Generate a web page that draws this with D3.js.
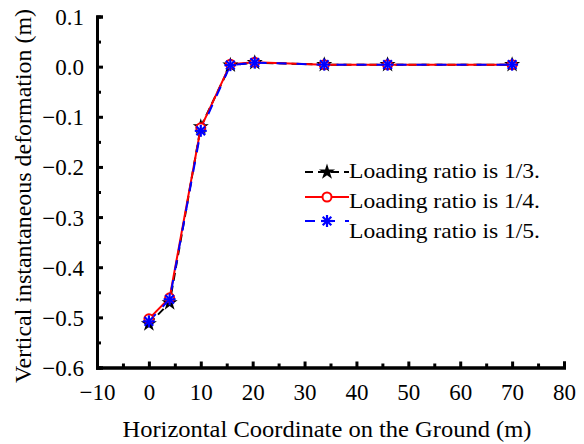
<!DOCTYPE html>
<html><head><meta charset="utf-8">
<script src="https://cdn.jsdelivr.net/npm/d3@7"></script>
<style>
html,body{margin:0;padding:0;background:#fff;}
</style></head>
<body>
<svg id="c" width="584" height="444"></svg>
<script>
const xValues = [0, 4, 10, 15.7, 20.4, 33.8, 46, 70];
const seriesNames = ["Loading ratio is 1/3.", "Loading ratio is 1/4.", "Loading ratio is 1/5."];
const ratio13 = [-0.513, -0.471, -0.120, 0.003, 0.008, 0.004, 0.004, 0.004];
const ratio14 = [-0.503, -0.461, -0.122, 0.005, 0.009, 0.004, 0.004, 0.004];
const ratio15 = [-0.508, -0.464, -0.128, 0.003, 0.008, 0.004, 0.004, 0.004];
const xTicks = [-10, 0, 10, 20, 30, 40, 50, 60, 70, 80];
const yTicks = [0.1, 0.0, -0.1, -0.2, -0.3, -0.4, -0.5, -0.6];
const xTitle = "Horizontal Coordinate on the Ground (m)";
const yTitle = "Vertical instantaneous deformation (m)";

const FONT = "'Liberation Serif', 'Times New Roman', serif";
const svg = d3.select("#c");
const x = d3.scaleLinear().domain([-10, 80]).range([97, 564]);
const y = d3.scaleLinear().domain([-0.6, 0.1]).range([367.5, 16.5]);

const series = [
  {name: seriesNames[0], values: ratio13, color: "#000", dash: "8,5", marker: "star"},
  {name: seriesNames[1], values: ratio14, color: "#ff0000", dash: null, marker: "circle"},
  {name: seriesNames[2], values: ratio15, color: "#0000ff", dash: "10,10", marker: "asterisk"}
];

// axes
const gx = svg.append("g").attr("transform", `translate(0,${y(-0.6)})`);
gx.call(d3.axisBottom(x).tickValues(xTicks).tickSize(-6).tickPadding(16).tickFormat(d3.format("d")));
gx.append("g").call(d3.axisBottom(x).tickValues(d3.range(-5, 80, 10)).tickSize(-4).tickFormat(""));
const gy = svg.append("g").attr("transform", `translate(${x(-10)},0)`);
gy.call(d3.axisLeft(y).tickValues(yTicks).tickSize(-6).tickPadding(13).tickFormat(d3.format(".1f")));
gy.append("g").call(d3.axisLeft(y).tickValues(d3.range(-0.55, 0.1, 0.1)).tickSize(-4).tickFormat(""));
svg.selectAll("g").attr("font-family", FONT);
svg.selectAll(".domain").attr("stroke", "#000").attr("stroke-width", 3);
svg.selectAll(".tick line").attr("stroke", "#000").attr("stroke-width", 3);
svg.selectAll(".tick text").style("font-size", "23px").style("font-family", FONT).attr("fill", "#000");
gy.selectAll(".tick text").attr("dy", "0.35em");

// lines
const line = d3.line().x((d, i) => x(xValues[i])).y(d => y(d));
function drawMarker(g, type, color, cx, cy) {
  if (type === "star") {
    g.append("path").attr("d", d3.symbol(d3.symbolStar, 80)()).attr("transform", `translate(${cx},${cy})`).attr("fill", color);
  } else if (type === "circle") {
    g.append("circle").attr("cx", cx).attr("cy", cy).attr("r", 4.5).attr("fill", "#fff").attr("stroke", color).attr("stroke-width", 2);
  } else {
    const r = 6;
    [[r,0],[0,r],[r*0.72,r*0.72],[r*0.72,-r*0.72]].forEach(([dx, dy]) => {
      g.append("line").attr("x1", cx-dx).attr("y1", cy-dy).attr("x2", cx+dx).attr("y2", cy+dy).attr("stroke", color).attr("stroke-width", 2.2);
    });
  }
}
series.forEach(s => {
  svg.append("path").datum(s.values).attr("d", line).attr("fill", "none")
    .attr("stroke", s.color).attr("stroke-width", 2).attr("stroke-dasharray", s.dash);
});
series.forEach(s => {
  const g = svg.append("g");
  s.values.forEach((v, i) => drawMarker(g, s.marker, s.color, x(xValues[i]), y(v)));
});

// legend
const legRows = [{ly: 172, ty: 178}, {ly: 197, ty: 208}, {ly: 221, ty: 238}];
series.forEach((s, i) => {
  const g = svg.append("g");
  g.append("line").attr("x1", 305).attr("x2", 349).attr("y1", legRows[i].ly).attr("y2", legRows[i].ly)
    .attr("stroke", s.color).attr("stroke-width", 2).attr("stroke-dasharray", s.dash);
  drawMarker(g, s.marker, s.color, 327, legRows[i].ly);
  g.append("text").attr("x", 349).attr("y", legRows[i].ty).style("font-size", "22px").style("font-family", FONT)
    .attr("textLength", 191).attr("lengthAdjust", "spacingAndGlyphs").text(s.name);
});

// titles
svg.append("text").attr("x", 327).attr("y", 437).attr("text-anchor", "middle").style("font-size", "24px").style("font-family", FONT)
  .attr("textLength", 409).attr("lengthAdjust", "spacingAndGlyphs").text(xTitle);
svg.append("text").attr("transform", "translate(31,196) rotate(-90)").attr("text-anchor", "middle").style("font-size", "23px").style("font-family", FONT)
  .attr("textLength", 374).attr("lengthAdjust", "spacingAndGlyphs").text(yTitle);
</script>
</body></html>
